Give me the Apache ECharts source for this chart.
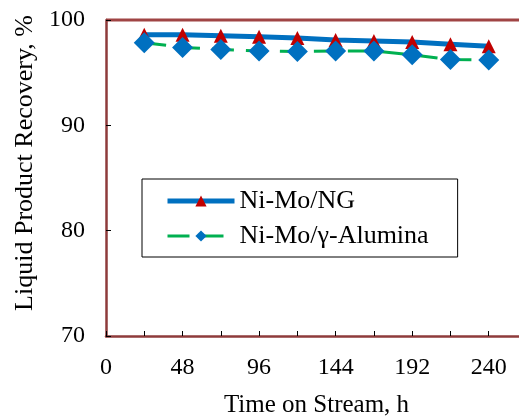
<!DOCTYPE html>
<html><head><meta charset="utf-8">
<script src="https://cdn.jsdelivr.net/npm/echarts@6/dist/echarts.min.js"></script>
<style>html,body{margin:0;padding:0;background:#fff}#c{width:519px;height:419px}</style>
</head><body><div id="c"></div>
<script>
const hours = [24, 48, 72, 96, 120, 144, 168, 192, 216, 240];
const niMoNG = [98.6, 98.6, 98.5, 98.4, 98.3, 98.1, 98.0, 97.9, 97.7, 97.5];
const niMoAlumina = [97.85, 97.4, 97.2, 97.05, 97.0, 97.05, 97.05, 96.7, 96.25, 96.2];
const seriesNames = ['Ni-Mo/NG', 'Ni-Mo/γ-Alumina'];
const xTitle = 'Time on Stream, h';
const yTitle = 'Liquid Product Recovery, %';

const font = 'Liberation Serif';
const chart = echarts.init(document.getElementById('c'), null, {renderer: 'canvas'});
const axisCol = '#8e3b3b';
chart.setOption({
  animation: false,
  backgroundColor: '#fff',
  grid: {left: 106, top: 20, width: 421, height: 316, containLabel: false, outerBoundsMode: 'none'},
  xAxis: {
    type: 'value', min: 0, max: 264, interval: 24,
    name: xTitle, nameLocation: 'middle', nameGap: 57,
    nameTextStyle: {fontFamily: font, fontSize: 25, color: '#000'},
    axisLine: {show: true, lineStyle: {color: axisCol, width: 2.5}},
    axisTick: {show: true, inside: true, length: 5, lineStyle: {color: '#000', width: 1}},
    axisLabel: {fontFamily: font, fontSize: 24, color: '#000', margin: 20,
      formatter: v => (v % 48 === 0 && v <= 240) ? String(v) : ''},
    splitLine: {show: false}
  },
  yAxis: {
    type: 'value', min: 70, max: 100, interval: 10,
    name: yTitle, nameLocation: 'middle', nameGap: 68,
    nameTextStyle: {fontFamily: font, fontSize: 26, color: '#000', padding: [0, 0, 0, 30]},
    axisLine: {show: true, lineStyle: {color: axisCol, width: 2.5}},
    axisTick: {show: true, inside: true, length: 5, lineStyle: {color: '#000', width: 1}},
    axisLabel: {fontFamily: font, fontSize: 24, color: '#000', margin: 21},
    splitLine: {show: false}
  },
  legend: {
    left: 142, top: 179, orient: 'vertical',
    itemWidth: 67, itemHeight: 14, itemGap: 9,
    padding: [9, 29, 8, 23],
    borderColor: '#000', borderWidth: 1,
    textStyle: {fontFamily: font, fontSize: 26, color: '#000'},
    data: [
      {name: seriesNames[0], lineStyle: {width: 5}},
      {name: seriesNames[1], lineStyle: {width: 3}}
    ]
  },
  series: [
    {
      name: seriesNames[0], type: 'line', data: hours.map((h, i) => [h, niMoNG[i]]),
      lineStyle: {color: '#0070c0', width: 5},
      itemStyle: {color: '#c00000'},
      symbol: 'triangle', symbolSize: [14, 14], z: 3
    },
    {
      name: seriesNames[1], type: 'line', data: hours.map((h, i) => [h, niMoAlumina[i]]),
      lineStyle: {color: '#00b050', width: 3, type: [22, 12]},
      itemStyle: {color: '#0070c0'},
      symbol: 'diamond', symbolSize: [21, 21], z: 4
    }
  ],
  graphic: [
    {type: 'line', shape: {x1: 106, y1: 20, x2: 519, y2: 20}, style: {stroke: '#a04444', lineWidth: 3}}
  ]
});
</script></body></html>
